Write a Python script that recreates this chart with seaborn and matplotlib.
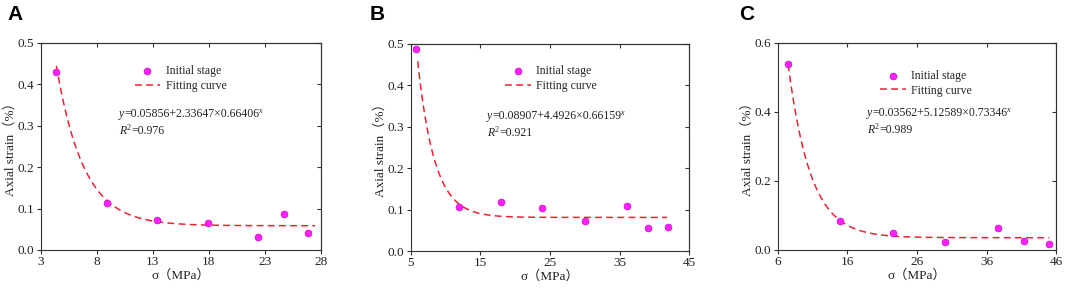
import numpy as np
import pandas as pd
import matplotlib
matplotlib.use("Agg")
import matplotlib.pyplot as plt
import seaborn as sns

# ---------------- data ----------------
panel_labels = ["A", "B", "C"]

sigma_A = [4.4, 8.9, 13.4, 17.9, 22.4, 24.7, 26.9]
strain_A = [0.430, 0.114, 0.073, 0.065, 0.032, 0.088, 0.041]

sigma_B = [5.8, 11.9, 17.9, 23.9, 30.0, 36.0, 39.0, 42.0]
strain_B = [0.487, 0.105, 0.119, 0.103, 0.072, 0.109, 0.055, 0.059]

sigma_C = [7.5, 15.0, 22.5, 30.0, 37.6, 41.3, 45.0]
strain_C = [0.537, 0.083, 0.049, 0.024, 0.064, 0.027, 0.016]

# fitted curves as drawn: y = a + b * c**x (a of panel B read from the drawn plateau)
fit_a = [0.05856, 0.081, 0.03562]
fit_b = [2.33647, 4.4926, 5.12589]
fit_c = [0.66406, 0.66159, 0.73346]
fit_xrange = [(4.4, 27.5), (6.0, 41.8), (7.5, 45.0)]
fit_text = ["=0.05856+2.33647×0.66406", "=0.08907+4.4926×0.66159", "=0.03562+5.12589×0.73346"]
r2_text = ["=0.976", "=0.921", "=0.989"]

xticks = [[3, 8, 13, 18, 23, 28], [5, 15, 25, 35, 45], [6, 16, 26, 36, 46]]
yticks = [[0.0, 0.1, 0.2, 0.3, 0.4, 0.5], [0.0, 0.1, 0.2, 0.3, 0.4, 0.5], [0.0, 0.2, 0.4, 0.6]]

# ---------------- style ----------------
sns.set_style("ticks")
plt.rcParams["font.family"] = ["Liberation Serif", "Noto Sans CJK SC", "DejaVu Sans"]
plt.rcParams["axes.linewidth"] = 0.8
plt.rcParams["axes.edgecolor"] = "#333333"

W, H = 1065, 288
fig = plt.figure(figsize=(W / 100, H / 100), dpi=100)
renderer = fig.canvas.get_renderer()

# axes boxes in pixels: left, right, top, bottom
boxes = [(40.7, 320.7, 42.7, 250.0), (410.7, 689.3, 43.7, 251.0), (777.7, 1056.3, 42.7, 250.0)]
leg_anchor = [(0.335, 0.893), (0.338, 0.898), (0.366, 0.870)]
text_pos = [(119, 117, 134), (487, 119, 136), (867, 116, 133)]
panel_pos = [(7, 20), (370, 20), (739, 20)]

sigmas = [sigma_A, sigma_B, sigma_C]
strains = [strain_A, strain_B, strain_C]


def rich_text(x_px, base_px, pieces, size=8.5):
    """pieces: list of (string, style, superscript?) drawn one after another."""
    x = x_px
    for s, style, sup in pieces:
        fs = size * 0.68 if sup else size
        y = base_px - (size * 0.45 if sup else 0)
        t = fig.text(x / W, 1 - y / H, s, fontsize=fs, style=style,
                     va="baseline", ha="left", color="#222222")
        bb = t.get_window_extent(renderer=renderer)
        if sup:
            gap = 0.5
        elif style == "italic":
            gap = 0.3
        else:
            gap = -1.5
        x += bb.width + gap


for i in range(3):
    l, r, t, b = boxes[i]
    ax = fig.add_axes([l / W, 1 - b / H, (r - l) / W, (b - t) / H])
    df = pd.DataFrame({"sigma": sigmas[i], "strain": strains[i]})
    xf = np.linspace(fit_xrange[i][0], fit_xrange[i][1], 300)
    yf = fit_a[i] + fit_b[i] * fit_c[i] ** xf
    dff = pd.DataFrame({"sigma": xf, "strain": yf})

    sns.scatterplot(data=df, x="sigma", y="strain", ax=ax, color="#ff22ff",
                    edgecolor="#d000d0", linewidth=0.5, s=24, zorder=3,
                    label="Initial stage")
    sns.lineplot(data=dff, x="sigma", y="strain", ax=ax, color="#ee2233",
                 linewidth=1.1, linestyle="--", zorder=2,
                 label="Fitting curve")
    ax.lines[-1].set_dashes((4.5, 2.8))

    ax.set_xlim(xticks[i][0], xticks[i][-1])
    ax.set_ylim(yticks[i][0], yticks[i][-1])
    ax.set_xticks(xticks[i])
    ax.set_yticks(yticks[i])
    ax.set_yticklabels([f"{v:.1f}" for v in yticks[i]])
    ax.tick_params(direction="out", length=3, width=0.8, labelsize=9.5, pad=1.5,
                   colors="#333333", labelcolor="#222222")
    for s in ax.spines.values():
        s.set_visible(True)
        s.set_linewidth(0.8)
        s.set_color("#333333")
    secx = ax.secondary_xaxis("top")
    secx.set_xticks(xticks[i])
    secx.tick_params(direction="in", length=3, width=0.8, labeltop=False, colors="#333333")
    secy = ax.secondary_yaxis("right")
    secy.set_yticks(yticks[i])
    secy.tick_params(direction="in", length=3, width=0.8, labelright=False, colors="#333333")

    ax.set_xlabel("σ（MPa）", fontsize=9.5, labelpad=1, color="#222222")
    ax.set_ylabel("Axial strain（%）", fontsize=9.5, labelpad=1, color="#222222")

    ax.legend(loc="upper left", bbox_to_anchor=leg_anchor[i], frameon=False,
              fontsize=8.5, handlelength=2.2, handletextpad=0.45,
              labelspacing=0.25, borderpad=0, borderaxespad=0, markerscale=1.0)

    tx, ty1, ty2 = text_pos[i]
    rich_text(tx, ty1, [("y", "italic", False), (fit_text[i], "normal", False),
                        ("x", "italic", True)])
    rich_text(tx, ty2, [("R", "italic", False), ("2", "normal", True),
                        (r2_text[i], "normal", False)])

    px, py = panel_pos[i]
    fig.text(px / W, 1 - py / H, panel_labels[i], fontsize=15, fontweight="bold",
             family="Liberation Sans", va="baseline", ha="left", color="black")

fig.savefig("out.png", dpi=100)
